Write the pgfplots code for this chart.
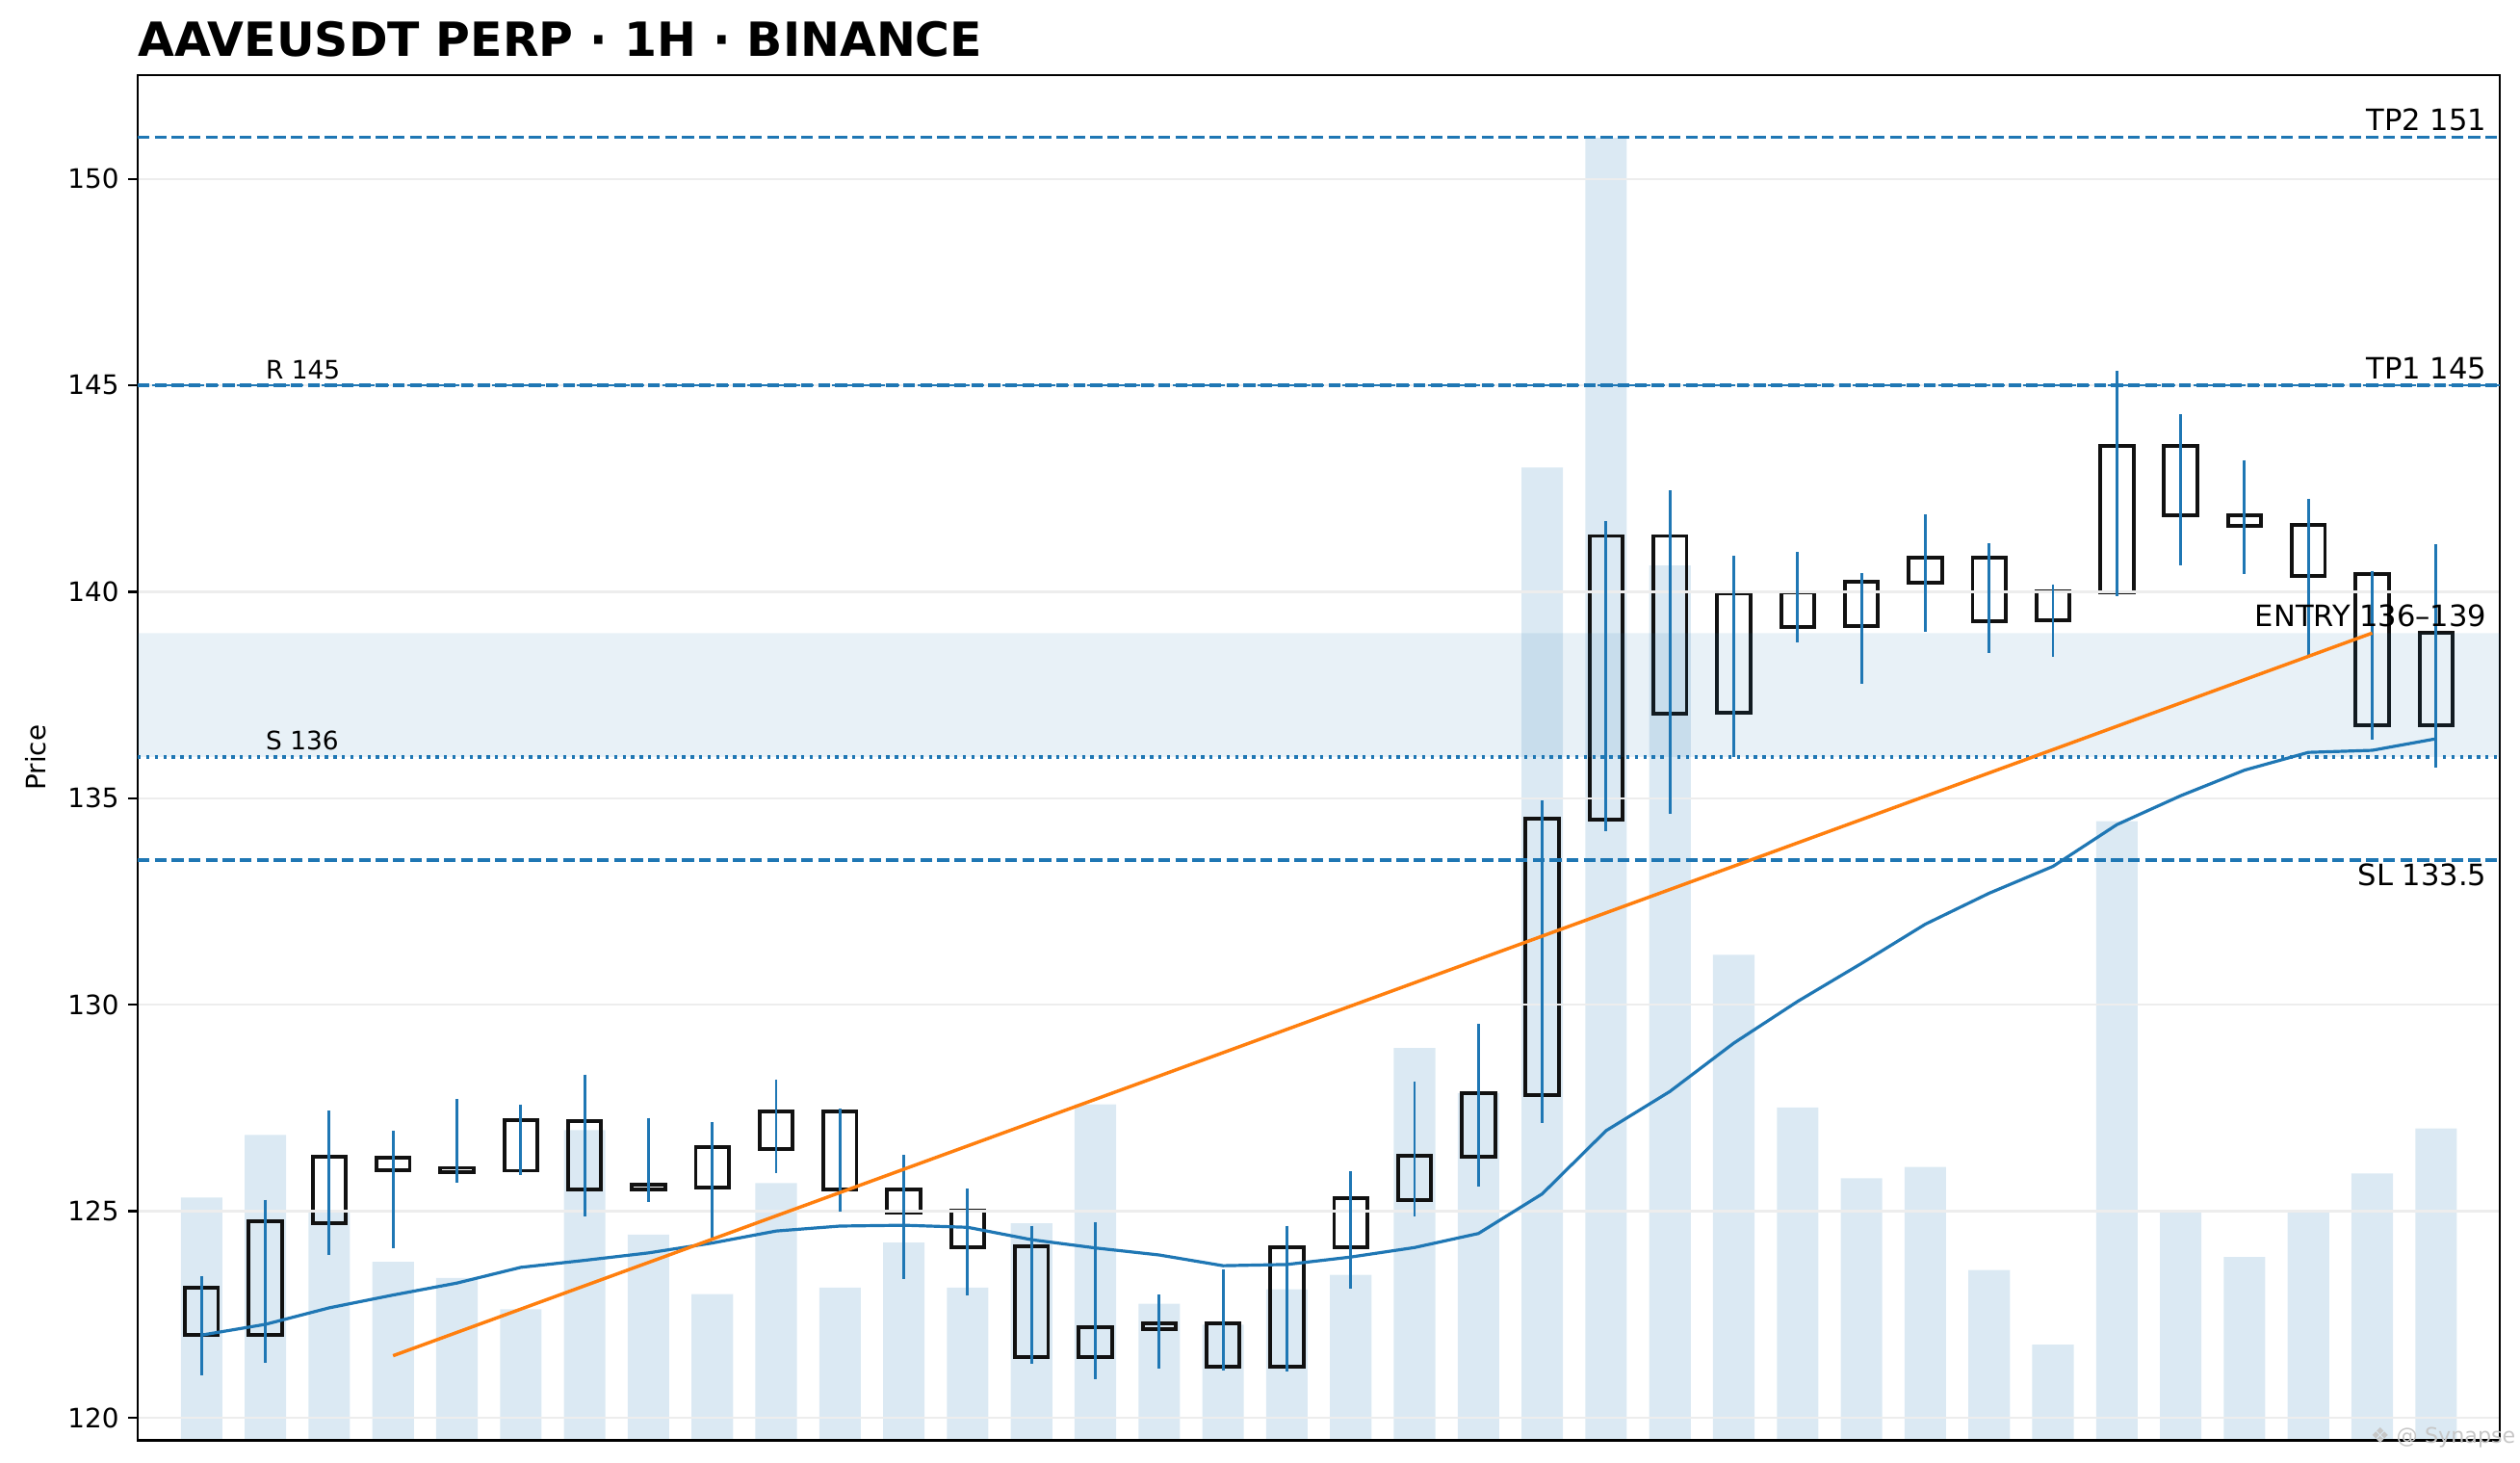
\documentclass[border=0pt]{standalone}
\usepackage{fontspec}
\setmainfont{DejaVu Sans}
\usepackage{pgfplots}
\usepackage{pgfplotstable}
\pgfplotsset{compat=1.18}
\definecolor{c1}{HTML}{1F77B4}
\definecolor{c2}{HTML}{FF7F0E}
\definecolor{edge}{HTML}{111111}

\pgfplotstableread{
i  bl     bt     wl     wh     vol  ma
0  122.00 123.15 121.02 123.43 151 122.00
1  122.00 124.75 121.32 125.28 190 122.26
2  124.71 126.32 123.95 127.43 143 122.66
3  126.00 126.29 124.11 126.95 111 122.97
4  125.95 126.05 125.69 127.72 101 123.26
5  125.98 127.20 125.88 127.59 81.5 123.64
6  125.52 127.18 124.88 128.31 193 123.81
7  125.53 125.65 125.22 127.26 128 123.99
8  125.58 126.55 124.36 127.15 91 124.23
9  126.51 127.41 125.92 128.19 160 124.52
10 125.52 127.41 124.98 127.49 95 124.64
11 124.97 125.53 123.35 126.36 123 124.66
12 124.12 125.02 122.95 125.54 95 124.61
13 121.47 124.15 121.30 124.65 135 124.31
14 121.47 122.19 120.93 124.73 209 124.11
15 122.15 122.28 121.18 122.98 85 123.94
16 121.24 122.29 121.14 123.59 72 123.68
17 121.24 124.13 121.12 124.65 94 123.71
18 124.13 125.31 123.12 125.96 103 123.89
19 125.28 126.35 124.87 128.13 244 124.12
20 126.31 127.86 125.59 129.53 216 124.46
21 127.81 134.51 127.14 134.94 605 125.42
22 134.49 141.35 134.21 141.71 810 126.95
23 137.05 141.35 134.63 142.45 544 127.90
24 137.08 139.97 136.00 140.87 302 129.07
25 139.14 139.98 138.78 140.96 207 130.08
26 139.18 140.24 137.78 140.45 163 131.00
27 140.22 140.83 139.04 141.87 170 131.95
28 139.29 140.83 138.52 141.17 106 132.70
29 139.31 140.01 138.43 140.18 59.5 133.35
30 139.98 143.54 139.90 145.35 385 134.36
31 141.85 143.54 140.63 144.29 142 135.06
32 141.59 141.85 140.42 143.19 114 135.68
33 140.39 141.62 138.48 142.25 143 136.11
34 136.77 140.43 136.41 140.51 166 136.16
35 136.77 139.00 135.75 141.15 194 136.44
}\candles

\pgfplotsset{
  base/.style={
    width=883.1pt, height=510.3pt, scale only axis,
    at={(0,0)}, anchor=south west,
    xmin=-1, xmax=36,
  },
}

\begin{document}
\begin{tikzpicture}
\useasboundingbox (-51.48pt,-8.12pt) rectangle (890.62pt,538.38pt);

% volume
\begin{axis}[base, hide axis, ymin=0, ymax=849, ybar, bar width=0.65]
\addplot[fill=c1, fill opacity=0.16, draw=none] table[x=i, y=vol] {\candles};
\end{axis}

% candle bodies
\begin{axis}[base, hide axis, ymin=119.45, ymax=152.51, ybar stacked, bar width=0.52]
\addplot[draw=none, fill=none] table[x=i, y=bl] {\candles};
\addplot[draw=edge, fill=none, line width=1.4pt] table[x=i, y expr=\thisrow{bt}-\thisrow{bl}] {\candles};
\end{axis}

% main
\begin{axis}[base,
  clip mode=individual,
  ymin=119.45, ymax=152.51,
  ytick={120,125,130,135,140,145,150},
  xtick=\empty,
  ytick pos=left,
  tick align=outside,
  major tick length=3.5pt,
  tick style={black, line width=0.8pt},
  axis line style={line width=0.8pt},
  ymajorgrids,
  grid style={black!7, line width=0.8pt},
  /pgf/number format/assume math mode=true,
  yticklabel style={font=\fontsize{10}{12}\selectfont},
  ylabel={Price},
  every axis y label/.style={at={(rel axis cs:0,0.5)}, xshift=-38.2pt, rotate=90, anchor=center, font=\fontsize{10}{12}\selectfont},
]
% entry band
\addplot[fill=c1, fill opacity=0.1, draw=none] coordinates {(-1,136) (36,136) (36,139) (-1,139) (-1,136)};
% levels
\addplot[c1, line width=1.2pt, dash pattern=on 4.44pt off 1.92pt] coordinates {(-1,151) (36,151)};
\addplot[c1, line width=1.0pt, dash pattern=on 3.7pt off 1.6pt] coordinates {(-1,145) (36,145)};
\addplot[c1, line width=1.2pt, dash pattern=on 4.44pt off 1.92pt] coordinates {(-1,145) (36,145)};
\addplot[c1, line width=1.2pt, dash pattern=on 1.2pt off 1.98pt] coordinates {(-1,136) (36,136)};
\addplot[c1, line width=1.2pt, dash pattern=on 4.44pt off 1.92pt] coordinates {(-1,133.5) (36,133.5)};
% wicks
\addplot[draw=none, no markers, error bars/.cd, y dir=minus, y explicit, error mark=none,
  error bar style={draw=c1, line width=1.05pt}]
  table[x=i, y=wh, y error expr=\thisrow{wh}-\thisrow{wl}] {\candles};
% moving average
\addplot[c1, line width=1.15pt] table[x=i, y=ma] {\candles};
% trend
\addplot[c2, line width=1.25pt] coordinates {(3,121.5) (34,139.0)};

\node[anchor=base east, inner sep=0pt, yshift=2.5pt, font=\fontsize{11}{13}\selectfont] at (axis cs:35.8,151) {TP2 151};
\node[anchor=base east, inner sep=0pt, yshift=2.5pt, font=\fontsize{11}{13}\selectfont] at (axis cs:35.8,145) {TP1 145};
\node[anchor=base east, inner sep=0pt, yshift=2.3pt, font=\fontsize{11}{13}\selectfont] at (axis cs:35.8,139) {ENTRY 136–139};
\node[anchor=north east, inner sep=0pt, yshift=-1.2pt, font=\fontsize{11}{13}\selectfont] at (axis cs:35.8,133.5) {SL 133.5};
\node[anchor=base west, inner sep=0pt, yshift=2.5pt, font=\fontsize{9.5}{11}\selectfont] at (axis cs:1,145) {R 145};
\node[anchor=base west, inner sep=0pt, yshift=2.5pt, font=\fontsize{9.5}{11}\selectfont] at (axis cs:1,136) {S 136};
\node[anchor=base west, inner sep=0pt, yshift=6.9pt, font=\fontsize{17.6}{20}\selectfont\bfseries] at (rel axis cs:0,1) {AAVEUSDT PERP · 1H · BINANCE};
\node[anchor=west, inner sep=0pt, text=black!22, font=\fontsize{8}{10}\selectfont] at (rel axis cs:0.945,0.002) {❖ @ Synapse};
\end{axis}
\end{tikzpicture}
\end{document}
